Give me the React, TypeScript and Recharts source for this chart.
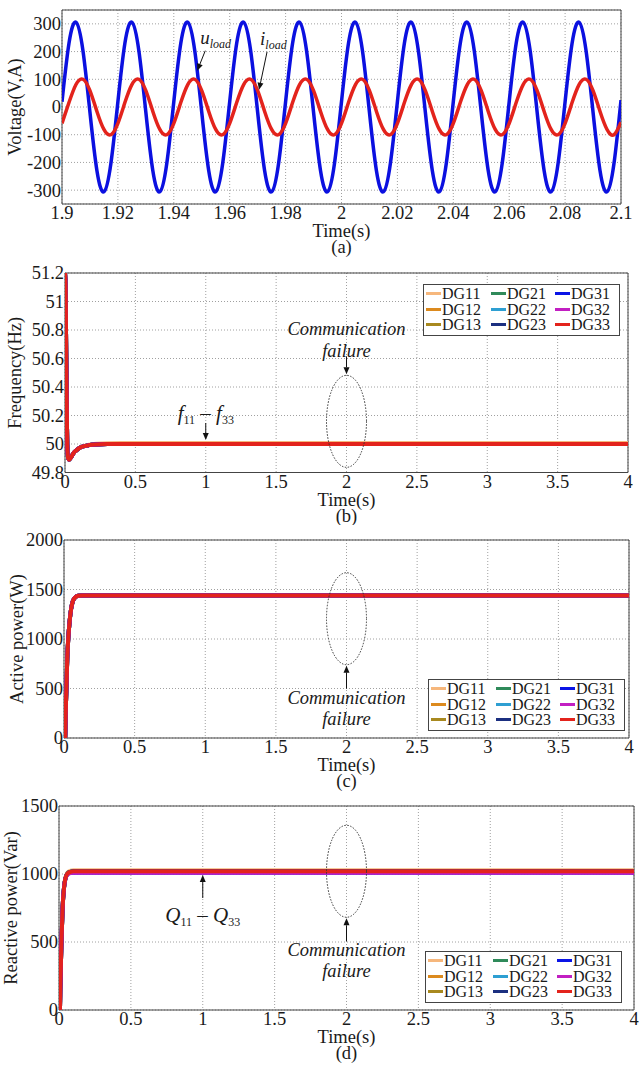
import React from 'react';
import {
  LineChart,
  Line,
  XAxis,
  YAxis,
  CartesianGrid,
  ReferenceArea,
  ReferenceDot,
  Legend,
} from 'recharts';

const FONT = '"Liberation Serif", "Times New Roman", serif';

// (a) load voltage / current, sampled every 2.5 ms
const timeA = [
  1.9, 1.9025, 1.905, 1.9075, 1.91, 1.9125, 1.915, 1.9175, 1.92, 1.9225, 1.925, 1.9275, 1.93, 1.9325,
  1.935, 1.9375, 1.94, 1.9425, 1.945, 1.9475, 1.95, 1.9525, 1.955, 1.9575, 1.96, 1.9625, 1.965, 1.9675,
  1.97, 1.9725, 1.975, 1.9775, 1.98, 1.9825, 1.985, 1.9875, 1.99, 1.9925, 1.995, 1.9975, 2.0, 2.0025,
  2.005, 2.0075, 2.01, 2.0125, 2.015, 2.0175, 2.02, 2.0225, 2.025, 2.0275, 2.03, 2.0325, 2.035, 2.0375,
  2.04, 2.0425, 2.045, 2.0475, 2.05, 2.0525, 2.055, 2.0575, 2.06, 2.0625, 2.065, 2.0675, 2.07, 2.0725,
  2.075, 2.0775, 2.08, 2.0825, 2.085, 2.0875, 2.09, 2.0925, 2.095, 2.0975, 2.1,
];
const uLoad = [
  19, 230, 306, 203, -19, -230, -306, -203,
  19, 230, 306, 203, -19, -230, -306, -203,
  19, 230, 306, 203, -19, -230, -306, -203,
  19, 230, 306, 203, -19, -230, -306, -203,
  19, 230, 306, 203, -19, -230, -306, -203,
  19, 230, 306, 203, -19, -230, -306, -203,
  19, 230, 306, 203, -19, -230, -306, -203,
  19, 230, 306, 203, -19, -230, -306, -203,
  19, 230, 306, 203, -19, -230, -306, -203,
  19, 230, 306, 203, -19, -230, -306, -203,
  25,
];
const iLoad = [
  -59, 16, 81, 100, 59, -16, -81, -100,
  -59, 16, 81, 100, 59, -16, -81, -100,
  -59, 16, 81, 100, 59, -16, -81, -100,
  -59, 16, 81, 100, 59, -16, -81, -100,
  -59, 16, 81, 100, 59, -16, -81, -100,
  -59, 16, 81, 100, 59, -16, -81, -100,
  -59, 16, 81, 100, 59, -16, -81, -100,
  -59, 16, 81, 100, 59, -16, -81, -100,
  -59, 16, 81, 100, 59, -16, -81, -100,
  -59, 16, 81, 100, 59, -16, -81, -100,
  -55,
];
const ticksA_x = [1.9, 1.92, 1.94, 1.96, 1.98, 2, 2.02, 2.04, 2.06, 2.08, 2.1];
const ticksA_y = [-300, -200, -100, 0, 100, 200, 300];

// DG names / colours
const dgNames = ['DG11', 'DG12', 'DG13', 'DG21', 'DG22', 'DG23', 'DG31', 'DG32', 'DG33'];
const dgColors = ['#f6b77c', '#dc8a1e', '#a8891f', '#2f8a5a', '#2e9fd2', '#1b2f80', '#0a14e6', '#c21fc2', '#e3231c'];

// (b) frequency
const freqTime = [0, 0.004, 0.008, 0.012, 0.016, 0.022, 0.03, 0.045, 0.06, 0.08, 0.1, 0.13, 0.17, 0.22, 0.3, 0.4, 1, 2, 3, 4];
const freqCommon = [51.2, 51.1, 50.7, 50.3, 50.0, 49.9, 49.89, 49.91, 49.935, 49.955, 49.97, 49.983, 49.992, 49.997, 50.0, 50.0, 50.0, 50.0, 50.0, 50.0];
const freqDG11 = [51.2, 51.1, 50.7, 50.3, 50.0, 49.9, 49.89, 49.91, 49.935, 49.955, 49.97, 49.985, 49.995, 50.002, 50.006, 50.007, 50.007, 50.007, 50.007, 50.007];
const ticksB_x = [0, 0.5, 1, 1.5, 2, 2.5, 3, 3.5, 4];
const ticksB_y = [49.8, 50, 50.2, 50.4, 50.6, 50.8, 51, 51.2];

// (c) active power
const activeTime = [0, 0.008, 0.012, 0.017, 0.023, 0.03, 0.04, 0.05, 0.06, 0.07, 0.085, 0.1, 0.13, 1, 2, 3, 4];
const activeCommon = [0, 0, 250, 500, 800, 1000, 1180, 1300, 1370, 1405, 1428, 1437, 1440, 1440, 1440, 1440, 1440];
const ticksC_y = [0, 500, 1000, 1500, 2000];

// (d) reactive power
const reactiveTime = [0, 0.006, 0.01, 0.017, 0.025, 0.035, 0.045, 0.06, 0.08, 0.1, 0.13, 1, 2, 3, 4];
const reactiveCommon = [0, 0, 200, 500, 750, 900, 970, 1005, 1016, 1020, 1020, 1020, 1020, 1020, 1020];
const reactiveDG11 = [0, 0, 200, 500, 750, 900, 975, 1012, 1024, 1027, 1027, 1027, 1027, 1027, 1027];
const reactiveDG3x = [0, 0, 200, 500, 750, 900, 966, 998, 1008, 1010, 1010, 1010, 1010, 1010, 1010];
const ticksD_y = [0, 500, 1000, 1500];

const dataA = timeA.map((t, i) => ({ t, u: uLoad[i], i: iLoad[i] }));

function buildRows(time: number[], series: Record<string, number[]>) {
  return time.map((t, i) => {
    const row: Record<string, number> = { t };
    dgNames.forEach((n) => (row[n] = series[n][i]));
    return row;
  });
}

const dataB = buildRows(freqTime, {
  DG11: freqDG11, DG12: freqCommon, DG13: freqCommon, DG21: freqCommon, DG22: freqCommon,
  DG23: freqCommon, DG31: freqCommon, DG32: freqCommon, DG33: freqCommon,
});
const dataC = buildRows(activeTime, {
  DG11: activeCommon, DG12: activeCommon, DG13: activeCommon, DG21: activeCommon, DG22: activeCommon,
  DG23: activeCommon, DG31: activeCommon, DG32: activeCommon, DG33: activeCommon,
});
const dataD = buildRows(reactiveTime, {
  DG11: reactiveDG11, DG12: reactiveCommon, DG13: reactiveCommon, DG21: reactiveCommon, DG22: reactiveCommon,
  DG23: reactiveCommon, DG31: reactiveDG3x, DG32: reactiveDG3x, DG33: reactiveCommon,
});

const txt = { fontFamily: FONT, fill: '#1a1a1a' };

function arrow(x1: number, y1: number, x2: number, y2: number) {
  const dx = x2 - x1;
  const dy = y2 - y1;
  const len = Math.hypot(dx, dy);
  const ux = dx / len;
  const uy = dy / len;
  const bx = x2 - ux * 7;
  const by = y2 - uy * 7;
  return (
    <g>
      <line x1={x1} y1={y1} x2={bx} y2={by} stroke="#111" strokeWidth={1} />
      <polygon
        points={`${x2},${y2} ${bx - uy * 3},${by + ux * 3} ${bx + uy * 3},${by - ux * 3}`}
        fill="#111"
      />
    </g>
  );
}

// ellipse marking the communication failure, text above or below
function commFailure(below: boolean) {
  return (p: any) => {
    const { cx, cy } = p;
    const ry = 46;
    return (
      <g>
        <ellipse cx={cx} cy={cy} rx={20} ry={ry} fill="none" stroke="#333" strokeWidth={1} strokeDasharray="1.5 1.5" />
        {below ? arrow(cx, cy + ry + 24, cx, cy + ry + 1) : arrow(cx, cy - ry - 19, cx, cy - ry - 1)}
        <text x={cx} y={below ? cy + ry + 39 : cy - ry - 40} textAnchor="middle" fontSize={18.5} fontStyle="italic" {...txt}>
          Communication
        </text>
        <text x={cx} y={below ? cy + ry + 60 : cy - ry - 18} textAnchor="middle" fontSize={18.5} fontStyle="italic" {...txt}>
          failure
        </text>
      </g>
    );
  };
}

function rangeLabel(sym: string, up: boolean) {
  return (p: any) => {
    const { cx, cy } = p;
    return (
      <g>
        {up ? arrow(cx, cy + 24, cx, cy + 1) : arrow(cx, cy - 21, cx, cy - 4)}
        <text x={cx} y={up ? cy + 48 : cy - 24} textAnchor="middle" fontSize={21} {...txt}>
          <tspan fontStyle="italic">{sym}</tspan>
          <tspan fontSize={12} dy={4}>11</tspan>
          <tspan dy={-4}> – </tspan>
          <tspan fontStyle="italic">{sym}</tspan>
          <tspan fontSize={12} dy={4}>33</tspan>
        </text>
      </g>
    );
  };
}

function loadLabel(sym: string, tx: number, ty: number, textDx: number) {
  return (p: any) => {
    const { cx, cy } = p;
    return (
      <g>
        {arrow(cx + tx, cy + ty, cx, cy)}
        <text x={cx + textDx} y={cy + ty - 7} fontSize={19} fontStyle="italic" {...txt}>
          {sym}
          <tspan fontSize={12} dy={4}>load</tspan>
        </text>
      </g>
    );
  };
}

function XTick(p: any) {
  return (
    <text x={p.x} y={p.y} dy="0.71em" textAnchor="middle" fontSize={18.5} {...txt}>
      {String(p.payload.value)}
    </text>
  );
}

function YTick(p: any) {
  return (
    <text x={p.x} y={p.y} dy="0.35em" textAnchor="end" fontSize={18.5} {...txt}>
      {String(p.payload.value)}
    </text>
  );
}

function DGLegend({ payload }: any) {
  return (
    <div
      style={{
        border: '1px solid #444',
        background: '#fff',
        padding: '1px 2px 2px 2px',
        display: 'grid',
        gridTemplateColumns: '65px 64px 60px',
        gridTemplateRows: 'repeat(3, 15.5px)',
        gridAutoFlow: 'column',
        fontFamily: FONT,
        fontSize: 16,
        lineHeight: '15.5px',
        color: '#1a1a1a',
      }}
    >
      {(payload || []).map((p: any) => (
        <div key={p.value} style={{ display: 'flex', alignItems: 'center', whiteSpace: 'nowrap' }}>
          <span style={{ display: 'inline-block', width: 15, height: 3, background: p.color, marginRight: 1 }} />
          <span>{p.value}</span>
        </div>
      ))}
    </div>
  );
}

interface PanelProps {
  top: number;
  height: number;
  left: number;
  right: number;
  plotTop: number;
  plotBottom: number;
  data: any[];
  xDomain: [number, number];
  xTicks: number[];
  yDomain: [number, number];
  yTicks: number[];
  yLabel: string;
  yLabelX: number;
  caption: string;
  children?: React.ReactNode;
}

function Panel(props: PanelProps) {
  const { top, height, left, right, plotTop, plotBottom, data, xDomain, xTicks, yDomain, yTicks, yLabel, yLabelX, caption } = props;
  return (
    <div style={{ position: 'absolute', left: 0, top, width: 644, height }}>
      <LineChart width={644} height={height} data={data} margin={{ top: plotTop, right: 644 - right, bottom: 0, left: 0 }}>
        <CartesianGrid stroke="#a0a0a0" strokeDasharray="1 2" />
        <XAxis
          dataKey="t"
          type="number"
          domain={xDomain}
          ticks={xTicks}
          interval={0}
          allowDataOverflow
          height={height - plotBottom}
          axisLine={false}
          tickLine={false}
          tickSize={0}
          tickMargin={2}
          tick={XTick}
          label={(lp: any) => {
            const vb = lp.viewBox;
            const cx = vb.x + vb.width / 2;
            return (
              <g>
                <text x={cx} y={vb.y + 33} textAnchor="middle" fontSize={18.5} {...txt}>Time(s)</text>
                <text x={cx} y={vb.y + 49} textAnchor="middle" fontSize={18.5} {...txt}>{caption}</text>
              </g>
            );
          }}
        />
        <YAxis
          type="number"
          domain={yDomain}
          ticks={yTicks}
          interval={0}
          allowDataOverflow
          width={left}
          axisLine={false}
          tickLine={false}
          tickSize={0}
          tickMargin={1}
          tick={YTick}
          label={(lp: any) => {
            const vb = lp.viewBox;
            const cy = vb.y + vb.height / 2;
            return (
              <text x={yLabelX} y={cy} textAnchor="middle" dominantBaseline="central" fontSize={18.5} transform={`rotate(-90 ${yLabelX} ${cy})`} {...txt}>
                {yLabel}
              </text>
            );
          }}
        />
        {props.children}
        <ReferenceArea x1={xDomain[0]} x2={xDomain[1]} y1={yDomain[0]} y2={yDomain[1]} fill="none" stroke="#444" strokeWidth={1} ifOverflow="visible" />
      </LineChart>
    </div>
  );
}

function dgLines() {
  return dgNames.map((n, k) => (
    <Line
      key={n}
      type="monotone"
      dataKey={n}
      name={n}
      stroke={dgColors[k]}
      strokeWidth={4}
      dot={false}
      activeDot={false}
      legendType="plainline"
      isAnimationActive={false}
    />
  ));
}

function dgLegend(left: number, top: number) {
  return (
    <Legend
      layout="vertical"
      align="center"
      verticalAlign="middle"
      wrapperStyle={{ left, top, width: 197, height: 'auto' }}
      content={(p: any) => <DGLegend {...p} />}
    />
  );
}

export default function App() {
  return (
    <div style={{ position: 'absolute', left: 0, top: 0, width: 644, height: 1072, background: '#fff', overflow: 'hidden' }}>
      <Panel
        top={0} height={262} left={62} right={621} plotTop={10} plotBottom={204}
        data={dataA} xDomain={[1.9, 2.1]} xTicks={ticksA_x} yDomain={[-350, 350]} yTicks={ticksA_y}
        yLabel="Voltage(V,A)" yLabelX={15} caption="(a)"
      >
        <Line type="natural" dataKey="u" stroke="#0b10e0" strokeWidth={3.5} dot={false} activeDot={false} isAnimationActive={false} />
        <Line type="natural" dataKey="i" stroke="#e3231c" strokeWidth={3.5} dot={false} activeDot={false} isAnimationActive={false} />
        <ReferenceDot x={1.9484} y={131} r={0} ifOverflow="visible" shape={loadLabel('u', 8, -20, 3)} />
        <ReferenceDot x={1.9705} y={62} r={0} ifOverflow="visible" shape={loadLabel('i', 8, -38, 1)} />
      </Panel>

      <Panel
        top={262} height={263} left={65} right={628} plotTop={11} plotBottom={210.5}
        data={dataB} xDomain={[0, 4]} xTicks={ticksB_x} yDomain={[49.8, 51.2]} yTicks={ticksB_y}
        yLabel="Frequency(Hz)" yLabelX={15} caption="(b)"
      >
        {dgLines()}
        {dgLegend(423, 22)}
        <ReferenceDot x={2} y={50.159} r={0} ifOverflow="visible" shape={commFailure(false)} />
        <ReferenceDot x={1} y={50} r={0} ifOverflow="visible" shape={rangeLabel('f', false)} />
      </Panel>

      <Panel
        top={525} height={270} left={64} right={629} plotTop={15} plotBottom={213}
        data={dataC} xDomain={[0, 4]} xTicks={ticksB_x} yDomain={[0, 2000]} yTicks={ticksC_y}
        yLabel="Active power(W)" yLabelX={17} caption="(c)"
      >
        {dgLines()}
        {dgLegend(428, 154)}
        <ReferenceDot x={2} y={1205} r={0} ifOverflow="visible" shape={commFailure(true)} />
      </Panel>

      <Panel
        top={795} height={277} left={59} right={634} plotTop={11} plotBottom={215}
        data={dataD} xDomain={[0, 4]} xTicks={ticksB_x} yDomain={[0, 1500]} yTicks={ticksD_y}
        yLabel="Reactive power(Var)" yLabelX={11} caption="(d)"
      >
        {dgLines()}
        {dgLegend(425, 156)}
        <ReferenceDot x={2} y={1020} r={0} ifOverflow="visible" shape={commFailure(true)} />
        <ReferenceDot x={1} y={1000} r={0} ifOverflow="visible" shape={rangeLabel('Q', true)} />
      </Panel>
    </div>
  );
}
